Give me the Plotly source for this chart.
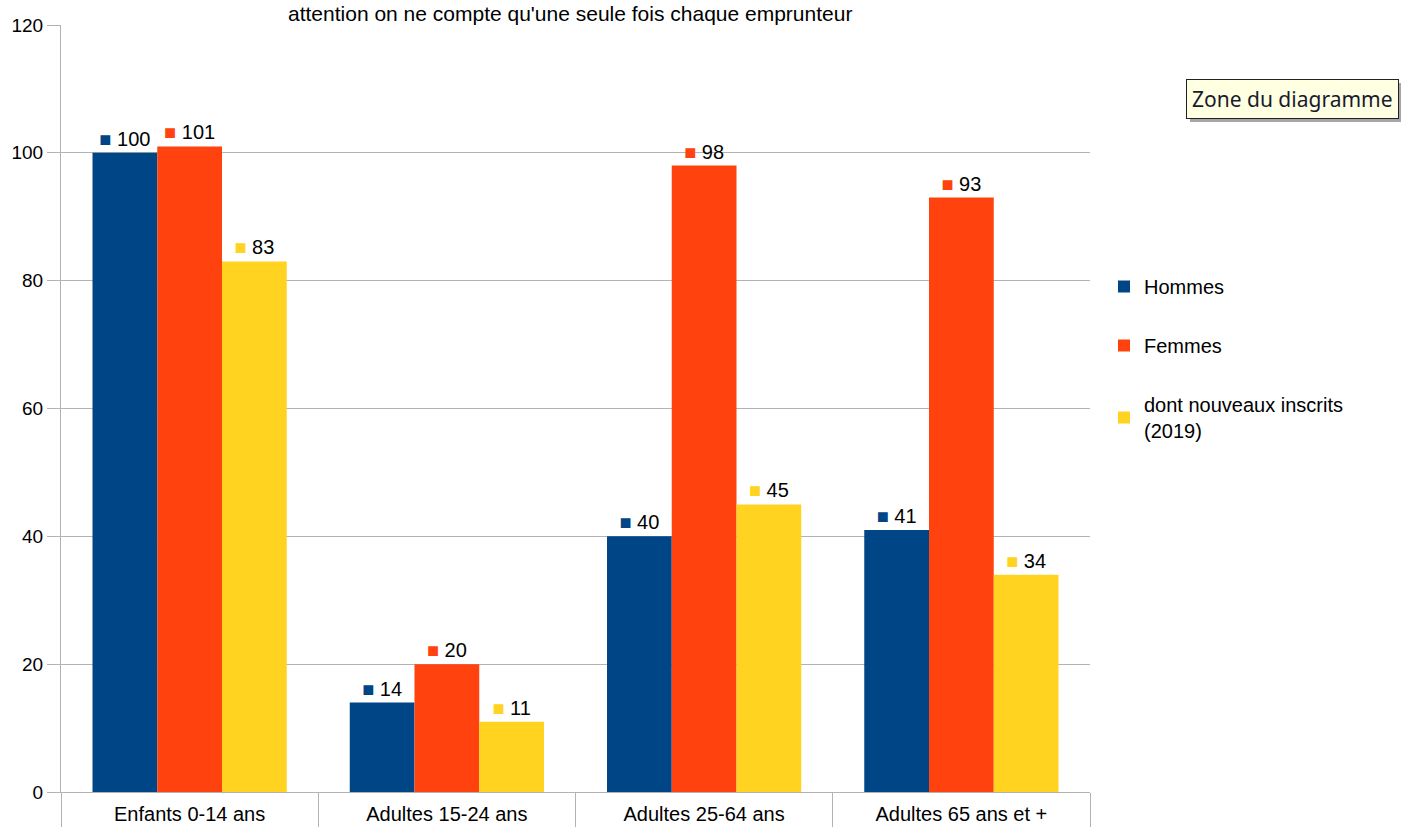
import plotly.graph_objects as go

categories = ["Enfants 0-14 ans", "Adultes 15-24 ans", "Adultes 25-64 ans", "Adultes 65 ans et +"]
hommes = [100, 14, 40, 41]
femmes = [101, 20, 98, 93]
nouveaux = [83, 11, 45, 34]
series_names = ["Hommes", "Femmes", "dont nouveaux inscrits<br>(2019)"]
colors = ["#004586", "#ff420e", "#ffd320"]
y_ticks = [0, 20, 40, 60, 80, 100, 120]

FONT = "Liberation Sans, Arial, sans-serif"
W, H = 1401, 827
ML, MR, MT, MB = 61, 311, 25, 35
PW, PH = W - ML - MR, H - MT - MB


def px_x(px):
    return (px - ML) / PW


def px_y(py):
    return 1 - (py - MT) / PH


fig = go.Figure()
for i, (name, vals, col) in enumerate(zip(series_names, [hommes, femmes, nouveaux], colors)):
    fig.add_trace(go.Bar(
        x=categories, y=vals, name=name,
        marker=dict(color=col, line=dict(width=0)),
        text=[f'<span style="color:{col}">■</span> {v}' for v in vals],
        textposition="outside",
        textfont=dict(family=FONT, size=20, color="#000000"),
        cliponaxis=False,
        legendgroup=f"g{i}",
    ))

fig.update_layout(
    width=W, height=H,
    paper_bgcolor="white", plot_bgcolor="white",
    barmode="group", bargap=0.245, bargroupgap=0,
    margin=dict(l=ML, r=MR, t=MT, b=MB, autoexpand=False),
    font=dict(family=FONT, size=19, color="#000000"),
    showlegend=True,
    legend=dict(
        x=px_x(1104), xanchor="left", y=px_y(267), yanchor="top",
        font=dict(family=FONT, size=20, color="#000000"),
        tracegroupgap=30, itemwidth=30, bgcolor="rgba(0,0,0,0)",
    ),
    xaxis=dict(
        showgrid=False, showline=True, linecolor="#b3b3b3", linewidth=1,
        ticks="outside", tickson="boundaries", ticklen=36, tickcolor="#b3b3b3",
        ticklabelstandoff=4,
        tickfont=dict(family=FONT, size=20, color="#000000"),
    ),
    yaxis=dict(
        range=[0, 120], tickvals=y_ticks, showgrid=True, gridcolor="#b3b3b3",
        showline=True, linecolor="#b3b3b3", ticks="outside", ticklen=13, tickcolor="#b3b3b3",
        zeroline=False, tickfont=dict(family=FONT, size=19, color="#000000"),
    ),
    shapes=[
        dict(type="rect", xref="paper", yref="paper",
             x0=px_x(1190), x1=px_x(1403), y0=px_y(122), y1=px_y(83),
             fillcolor="rgba(0,0,0,0.35)", line=dict(width=0), layer="above"),
    ],
    annotations=[
        dict(text="attention on ne compte qu'une seule fois chaque emprunteur",
             xref="paper", yref="paper", x=px_x(570), y=px_y(0), yanchor="top",
             showarrow=False, font=dict(family=FONT, size=21, color="#000000")),
        dict(text="Zone du diagramme", xref="paper", yref="paper",
             x=px_x(1186), y=px_y(79), xanchor="left", yanchor="top", showarrow=False,
             bgcolor="#ffffe1", bordercolor="#222222", borderwidth=1, borderpad=5,
             font=dict(family="Noto Sans, sans-serif", size=21, color="#1a1a2e")),
    ],
)

fig.write_html("out.html", config={"displayModeBar": False},
               post_script="document.body.style.margin='0';")
